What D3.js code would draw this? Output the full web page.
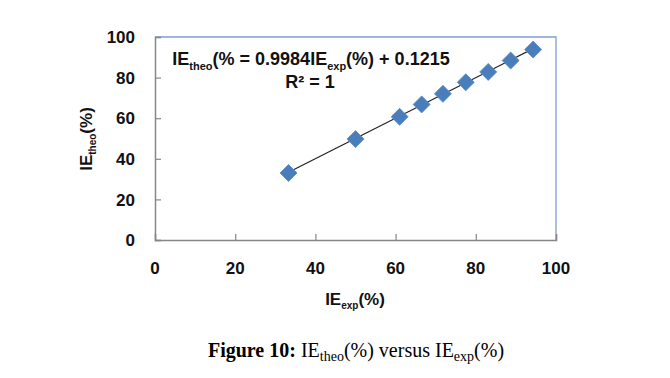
<!DOCTYPE html>
<html>
<head>
<meta charset="utf-8">
<script src="https://cdn.jsdelivr.net/npm/d3@7"></script>
<style>
body{margin:0;background:#fff;}
svg{display:block;}
</style>
</head>
<body>
<script>
// data
var ieExp=[33.3,50.0,61.0,66.5,71.8,77.5,83.1,88.7,94.3];
var ieTheo=[33.0,49.7,60.7,66.8,72.0,77.7,82.8,88.4,93.8];
var xTicks=[0,20,40,60,80,100];
var yTicks=[0,20,40,60,80,100];
var fitSlope=0.9984, fitIntercept=0.1215;

var W=670,H=378;
var svg=d3.select("body").append("svg").attr("width",W).attr("height",H);
var x=d3.scaleLinear().domain([0,100]).range([155,556]);
var y=d3.scaleLinear().domain([0,100]).range([240,37]);
var lblFont="'Liberation Sans',Arial,sans-serif";

// plot area border (top/right bluish like the excel export)
svg.append("path")
	.attr("d","M"+x(0)+","+y(100)+"H"+x(100)+"V"+y(0))
	.attr("fill","none").attr("stroke","#7f9fd0").attr("stroke-width",1.3);

// axes, ticks point inward
var xAx=svg.append("g").attr("transform","translate(0,"+y(0)+")")
	.call(d3.axisTop(x).tickValues(xTicks).tickSize(6).tickFormat(""));
var yAx=svg.append("g").attr("transform","translate("+x(0)+",0)")
	.call(d3.axisRight(y).tickValues(yTicks).tickSize(6).tickFormat(""));
[xAx,yAx].forEach(function(g){
	g.select(".domain").attr("stroke","#878787").attr("stroke-width",1.5);
	g.selectAll(".tick line").attr("stroke","#878787").attr("stroke-width",1.2);
});

// tick labels
svg.append("g").selectAll("text").data(xTicks).join("text")
	.attr("x",function(d){return x(d);}).attr("y",274)
	.attr("text-anchor","middle").attr("font-family",lblFont)
	.attr("font-weight","bold").attr("font-size",17).attr("fill","#111")
	.text(function(d){return d;});
svg.append("g").selectAll("text").data(yTicks).join("text")
	.attr("x",135).attr("y",function(d){return y(d);}).attr("dy","0.36em")
	.attr("text-anchor","end").attr("font-family",lblFont)
	.attr("font-weight","bold").attr("font-size",17).attr("fill","#111")
	.text(function(d){return d;});

// trendline from the fitted equation, across the data range
var xr=d3.extent(ieExp);
svg.append("line")
	.attr("x1",x(xr[0])).attr("y1",y(fitSlope*xr[0]+fitIntercept))
	.attr("x2",x(xr[1])).attr("y2",y(fitSlope*xr[1]+fitIntercept))
	.attr("stroke","#222").attr("stroke-width",1.2);

// diamond markers
svg.append("g").selectAll("path").data(ieExp).join("path")
	.attr("transform",function(d,i){return "translate("+x(d)+","+y(ieTheo[i])+") rotate(45)";})
	.attr("d","M-6,-6h12v12h-12z")
	.attr("fill","#4a7ebb").attr("stroke","#5a8acb").attr("stroke-width",0.8);

// helper for text with subscript
function subText(g,parts,size,sub){
	var t=g.append("text");
	parts.forEach(function(p){
		var ts=t.append("tspan").text(p[0]);
		if(p[1]=="sub") ts.attr("font-size",sub).attr("dy",size*0.25);
		else if(p[1]=="back") ts.attr("dy",-size*0.25);
	});
	return t;
}

// regression equation
subText(svg,[["IE"],["theo","sub"],["(% = 0.9984IE","back"],["exp","sub"],["(%) + 0.1215","back"]],18,11)
	.attr("x",311).attr("y",65).attr("text-anchor","middle")
	.attr("font-family",lblFont).attr("font-weight","bold").attr("font-size",18).attr("fill","#111");
svg.append("text").attr("x",310).attr("y",88).attr("text-anchor","middle")
	.attr("font-family",lblFont).attr("font-weight","bold").attr("font-size",18).attr("fill","#111")
	.text("R² = 1");

// axis titles
subText(svg,[["IE"],["exp","sub"],["(%)","back"]],17,10)
	.attr("x",355).attr("y",305).attr("text-anchor","middle")
	.attr("font-family",lblFont).attr("font-weight","bold").attr("font-size",17).attr("fill","#111");
subText(svg,[["IE"],["theo","sub"],["(%)","back"]],17,10)
	.attr("transform","translate(92,139) rotate(-90)").attr("text-anchor","middle")
	.attr("font-family",lblFont).attr("font-weight","bold").attr("font-size",17).attr("fill","#111");

// caption
var cap=svg.append("text").attr("x",356).attr("y",357).attr("text-anchor","middle")
	.attr("font-family","'Liberation Serif','Times New Roman',serif").attr("font-size",20).attr("fill","#000");
cap.append("tspan").attr("font-weight","bold").text("Figure 10: ");
cap.append("tspan").text("IE");
cap.append("tspan").attr("font-size",14).attr("dy",4).text("theo");
cap.append("tspan").attr("dy",-4).text("(%) versus IE");
cap.append("tspan").attr("font-size",14).attr("dy",4).text("exp");
cap.append("tspan").attr("dy",-4).text("(%)");
</script>
</body>
</html>
